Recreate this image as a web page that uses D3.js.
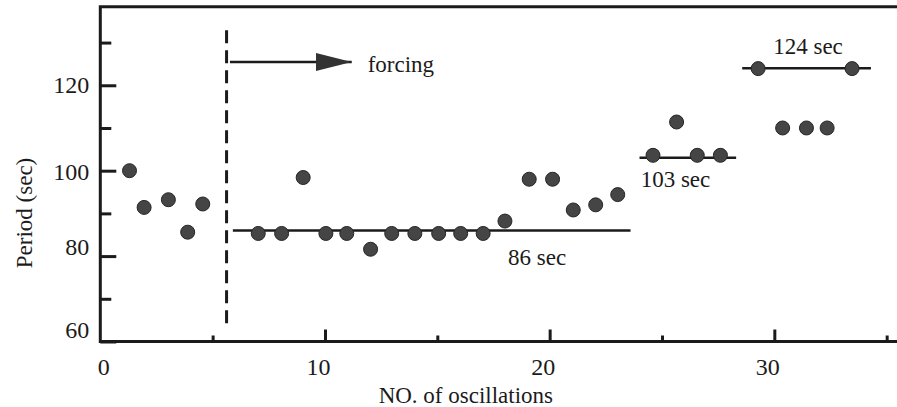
<!DOCTYPE html>
<html>
<head>
<meta charset="utf-8">
<script src="https://cdn.jsdelivr.net/npm/d3@7"></script>
<style>
  html, body { margin: 0; padding: 0; background: #fff; }
  svg { display: block; }
</style>
</head>
<body>
<svg id="chart" width="897" height="407"></svg>
<script>
// Oscillation number and measured period (sec)
const oscillationNo = [1.3, 1.95, 3.03, 3.89, 4.56,
  7.03, 8.07, 9.03, 10.04, 10.97, 12.03, 12.97, 14.0, 15.06, 16.04, 17.04,
  18.01, 19.09, 20.13, 21.05, 22.05, 23.03,
  24.6, 25.65, 26.57, 27.6,
  29.28, 30.37, 31.43, 32.35, 33.46];
const periodSec = [100, 91.4, 93.2, 85.6, 92.2,
  85.3, 85.3, 98.4, 85.3, 85.3, 81.6, 85.3, 85.3, 85.3, 85.3, 85.3,
  88.2, 98.0, 98.0, 90.8, 92.0, 94.4,
  103.6, 111.4, 103.6, 103.6,
  123.9, 110, 110, 110, 123.9];

// Mean period levels: value, start and end oscillation
const levelValues = [86, 103, 124];
const levelStart = [5.9, 24.0, 28.57];
const levelEnd = [23.6, 28.3, 34.3];
const levelLabels = ["86 sec", "103 sec", "124 sec"];
const levelLabelX = [18.15, 24.05, 29.95];
const levelLabelY = [77.8, 96.1, 127.3];

// Onset of forcing
const forcingStart = 5.62;
const forcingArrow = [5.77, 11.19, 125.45];   // from, to, period level
const forcingLabel = "forcing";

const yMajor = [60, 80, 100, 120];
const yMinor = [70, 90, 110, 130];
const xMajor = [0, 10, 20, 30];
const xMinor = [5, 15, 25, 35];

const FONT = "Liberation Serif";
const svg = d3.select("#chart").attr("font-family", FONT);
const ink = "#1b1b1b";

const x = d3.scaleLinear().domain([0, 35.46]).range([100.3, 897]);
const y = d3.scaleLinear().domain([60, 138.4]).range([341.5, 6.7]);

// frame: left, top and bottom edges
svg.append("path")
  .attr("d", `M${x(36.5)},${y(138.4)} L${x(0)},${y(138.4)} L${x(0)},${y(60)} L${x(36.5)},${y(60)}`)
  .attr("fill", "none").attr("stroke", ink).attr("stroke-width", 3);

// y axis ticks (inside)
const yLabelShift = {60: -13, 80: -10, 100: 0, 120: -1};
const yAx = svg.append("g").attr("transform", `translate(${x(0)},0)`)
  .call(d3.axisLeft(y).tickValues(yMajor).tickSize(-16).tickSizeOuter(0).tickPadding(11));
yAx.attr("font-family", FONT);
yAx.select(".domain").remove();
yAx.selectAll(".tick line").attr("stroke", ink).attr("stroke-width", 3);
yAx.selectAll(".tick text")
  .attr("font-size", 24).attr("fill", ink)
  .attr("dy", d => (yLabelShift[d] + 8.5) + "px");

const yAxMinor = svg.append("g").attr("transform", `translate(${x(0)},0)`)
  .call(d3.axisLeft(y).tickValues(yMinor).tickSize(-11).tickSizeOuter(0).tickFormat(""));
yAxMinor.select(".domain").remove();
yAxMinor.selectAll(".tick line").attr("stroke", ink).attr("stroke-width", 3);

// x axis ticks (inside)
const xAx = svg.append("g").attr("transform", `translate(0,${y(60)})`)
  .call(d3.axisBottom(x).tickValues(xMajor).tickSize(-12).tickSizeOuter(0).tickPadding(0));
xAx.attr("font-family", FONT);
xAx.select(".domain").remove();
xAx.selectAll(".tick line").attr("stroke", ink).attr("stroke-width", 3)
  .attr("display", d => d === 0 ? "none" : null);
xAx.selectAll(".tick text")
  .attr("font-size", 24).attr("fill", ink)
  .attr("y", 33.5).attr("dy", 0)
  .attr("x", d => d === 0 ? 3 : -7);

const xAxMinor = svg.append("g").attr("transform", `translate(0,${y(60)})`)
  .call(d3.axisBottom(x).tickValues(xMinor).tickSize(-6).tickSizeOuter(0).tickFormat(""));
xAxMinor.select(".domain").remove();
xAxMinor.selectAll(".tick line").attr("stroke", ink).attr("stroke-width", 3);

// axis titles
svg.append("text")
  .attr("transform", `translate(31.5,${y(90.1)}) rotate(-90)`)
  .attr("text-anchor", "middle").attr("font-size", 23).attr("fill", ink)
  .text("Period (sec)");
svg.append("text")
  .attr("x", x(16.27)).attr("y", 403)
  .attr("text-anchor", "middle").attr("font-size", 23).attr("fill", ink)
  .text("NO. of oscillations");

// forcing onset: dashed marker and arrow
svg.append("line")
  .attr("x1", x(forcingStart)).attr("x2", x(forcingStart))
  .attr("y1", y(132.9)).attr("y2", y(63.3))
  .attr("stroke", ink).attr("stroke-width", 3)
  .attr("stroke-dasharray", "13,7");

const defs = svg.append("defs");
defs.append("marker")
  .attr("id", "head").attr("viewBox", "0 0 36 18")
  .attr("refX", 36).attr("refY", 9)
  .attr("markerUnits", "userSpaceOnUse")
  .attr("markerWidth", 36).attr("markerHeight", 18)
  .attr("orient", "auto")
  .append("path").attr("d", "M0,0 L36,9 L0,18 Z").attr("fill", "#333");

svg.append("line")
  .attr("x1", x(forcingArrow[0])).attr("x2", x(forcingArrow[1]))
  .attr("y1", y(forcingArrow[2])).attr("y2", y(forcingArrow[2]))
  .attr("stroke", ink).attr("stroke-width", 2.5)
  .attr("marker-end", "url(#head)");

svg.append("text")
  .attr("x", x(11.9)).attr("y", y(123.1))
  .attr("font-size", 23).attr("fill", ink)
  .text(forcingLabel);

// mean period levels
svg.selectAll("line.level")
  .data(levelValues)
  .join("line").attr("class", "level")
  .attr("x1", (d, i) => x(levelStart[i]))
  .attr("x2", (d, i) => x(levelEnd[i]))
  .attr("y1", d => y(d)).attr("y2", d => y(d))
  .attr("stroke", ink).attr("stroke-width", 2.5);

svg.selectAll("text.level")
  .data(levelLabels)
  .join("text").attr("class", "level")
  .attr("x", (d, i) => x(levelLabelX[i]))
  .attr("y", (d, i) => y(levelLabelY[i]))
  .attr("font-size", 23).attr("fill", ink)
  .text(d => d);

// measured periods
svg.selectAll("circle.obs")
  .data(oscillationNo)
  .join("circle").attr("class", "obs")
  .attr("cx", d => x(d))
  .attr("cy", (d, i) => y(periodSec[i]))
  .attr("r", 7)
  .attr("fill", "#454545")
  .attr("stroke", "#262626").attr("stroke-width", 1);
</script>
</body>
</html>
